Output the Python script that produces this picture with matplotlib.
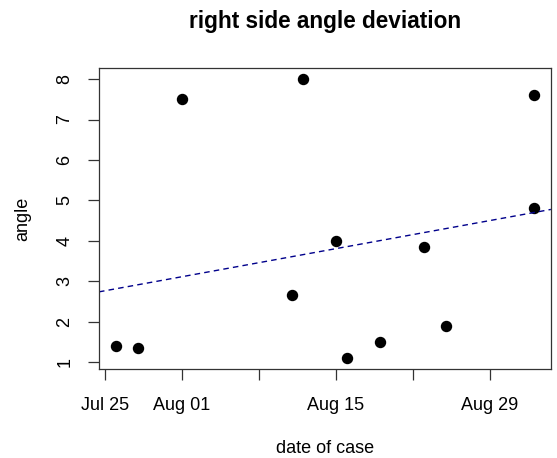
import matplotlib
matplotlib.use('Agg')
import matplotlib.pyplot as plt
import matplotlib.dates as mdates
import numpy as np
import datetime as dt

plt.rcParams['font.family'] = ['Liberation Sans', 'DejaVu Sans']

# data
case_dates = ['2020-07-26', '2020-07-28', '2020-08-01', '2020-08-11', '2020-08-12',
              '2020-08-15', '2020-08-16', '2020-08-19', '2020-08-23', '2020-08-25',
              '2020-09-02', '2020-09-02']
angle = [1.4, 1.35, 7.5, 2.65, 8.0, 4.0, 1.1, 1.5, 3.85, 1.9, 7.6, 4.8]
tick_dates = ['2020-07-25', '2020-08-01', '2020-08-08', '2020-08-15', '2020-08-22', '2020-08-29']
tick_labels = ['Jul 25', 'Aug 01', '', 'Aug 15', '', 'Aug 29']
y_ticks = [1, 2, 3, 4, 5, 6, 7, 8]

x = mdates.date2num([dt.datetime.fromisoformat(d) for d in case_dates])
y = np.array(angle)

fig = plt.figure(figsize=(5.57, 4.58), dpi=100)
ax = fig.add_axes([0.1777, 0.1943, 0.989 - 0.1777, 0.8515 - 0.1943])

ax.plot(x, y, 'o', color='black', markersize=7.2)

# R-style 4% padding
xr = x.max() - x.min()
yr = y.max() - y.min()
ax.set_xlim(x.min() - 0.04 * xr, x.max() + 0.04 * xr)
ax.set_ylim(y.min() - 0.04 * yr, y.max() + 0.04 * yr)

# linear fit across the full plot region
slope, icpt = np.polyfit(x, y, 1)
xl = np.array(ax.get_xlim())
ax.plot(xl, icpt + slope * xl, color='#00008B', linestyle=(0, (4, 3)), linewidth=1)
ax.set_xlim(xl)

xt = mdates.date2num([dt.datetime.fromisoformat(d) for d in tick_dates])
ax.set_xticks(xt)
ax.set_xticklabels(tick_labels)
ax.set_yticks(y_ticks)
ax.set_yticklabels([str(v) for v in y_ticks], rotation=90, va='center')

ax.tick_params(axis='both', direction='out', length=8, width=0.9, labelsize=13, color='#333333')
ax.tick_params(axis='x', pad=12.5)
ax.tick_params(axis='y', pad=10.5)
for s in ax.spines.values():
    s.set_color('#333333')
    s.set_linewidth(0.9)

ax.set_title('right side angle deviation', fontsize=16.3, fontweight='bold', pad=29)
ax.set_xlabel('date of case', fontsize=13, labelpad=18.5)
ax.set_ylabel('angle', fontsize=13, labelpad=18)

fig.savefig('out.png', dpi=100)
